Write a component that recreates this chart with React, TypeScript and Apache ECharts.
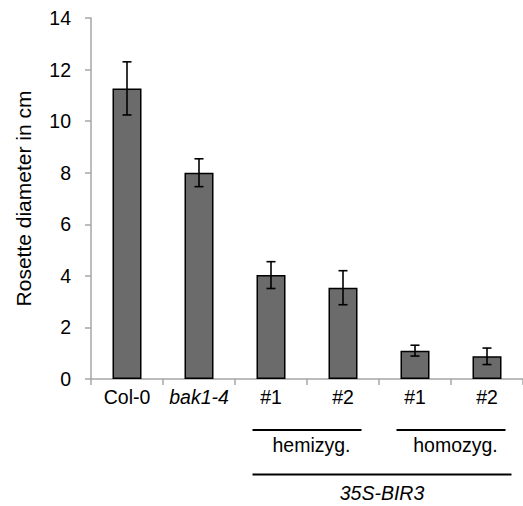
import React, { useEffect, useRef } from "react";
import * as echarts from "echarts";

const categories = ["Col-0", "bak1-4", "hemi #1", "hemi #2", "homo #1", "homo #2"];
const tickLabels = ["Col-0", "bak1-4", "#1", "#2", "#1", "#2"];
const italicLabels = ["bak1-4"];
const means = [11.27, 8.0, 4.03, 3.54, 1.1, 0.88];
const errors = [1.03, 0.54, 0.52, 0.66, 0.21, 0.32];
const yTicks = { min: 0, max: 14, interval: 2 };
const groups = [
  { label: "hemizyg.", from: 2, to: 3, italic: false, row: 0 },
  { label: "homozyg.", from: 4, to: 5, italic: false, row: 0 },
  { label: "35S-BIR3", from: 2, to: 5, italic: true, row: 1 },
];

const FONT = "'Liberation Sans', Arial, Helvetica, sans-serif";
const FS = 19.5;

export default function App() {
  const ref = useRef<HTMLDivElement>(null);
  useEffect(() => {
    if (!ref.current) return;
    const chart = echarts.init(ref.current, undefined, { renderer: "svg" });
    const errData = means.map((m, i) => [i, m - errors[i], m + errors[i]]);
    chart.setOption({
      animation: false,
      backgroundColor: "#ffffff",
      grid: { left: 91, right: -9, top: 18, bottom: 127, containLabel: false },
      xAxis: {
        type: "category",
        data: categories,
        axisLine: { show: true, lineStyle: { color: "#a6a6a6", width: 1.5 } },
        axisTick: { show: true, length: 6, lineStyle: { color: "#a6a6a6", width: 1.5 } },
        axisLabel: {
          margin: 8,
          color: "#000",
          fontSize: FS,
          fontFamily: FONT,
          interval: 0,
          formatter: (_v: string, idx: number) => {
            const t = tickLabels[idx];
            return italicLabels.includes(t) ? `{i|${t}}` : t;
          },
          rich: { i: { fontStyle: "italic", fontSize: FS, fontFamily: FONT, color: "#000" } },
        },
      },
      yAxis: {
        type: "value",
        min: yTicks.min,
        max: yTicks.max,
        interval: yTicks.interval,
        name: "Rosette diameter in cm",
        nameLocation: "middle",
        nameGap: 57,
        nameTextStyle: { fontSize: 21, fontFamily: FONT, color: "#000" },
        splitLine: { show: false },
        axisLine: { show: true, lineStyle: { color: "#a6a6a6", width: 1.5 } },
        axisTick: { show: true, length: 6, lineStyle: { color: "#a6a6a6", width: 1.5 } },
        axisLabel: { margin: 20, color: "#000", fontSize: FS, fontFamily: FONT },
      },
      series: [
        {
          type: "bar",
          data: means,
          barWidth: 29,
          itemStyle: { color: "#6b6b6b", borderColor: "#000", borderWidth: 1.5 },
        },
        {
          type: "custom",
          data: errData,
          z: 10,
          renderItem: (_p: any, api: any) => {
            const i = api.value(0);
            const lo = api.coord([i, api.value(1)]);
            const hi = api.coord([i, api.value(2)]);
            const x = lo[0];
            const hw = 4.5;
            const style = { stroke: "#000", lineWidth: 1.6 };
            return {
              type: "group",
              children: [
                { type: "line", shape: { x1: x, y1: hi[1], x2: x, y2: lo[1] }, style },
                { type: "line", shape: { x1: x - hw, y1: hi[1], x2: x + hw, y2: hi[1] }, style },
                { type: "line", shape: { x1: x - hw, y1: lo[1], x2: x + hw, y2: lo[1] }, style },
              ],
            };
          },
        },
      ],
    });

    const px = (i: number) => chart.convertToPixel({ xAxisIndex: 0 }, categories[i]) as number;
    const rows = [{ lineY: 430, textY: 445 }, { lineY: 474.5, textY: 493 }];
    const graphic: any[] = [];
    groups.forEach((g) => {
      const x1 = px(g.from) - 18.5;
      const x2 = px(g.to) + (g.row === 0 ? 18.5 : 24.5);
      const r = rows[g.row];
      graphic.push({
        type: "line",
        shape: { x1, y1: r.lineY, x2, y2: r.lineY },
        style: { stroke: "#000", lineWidth: 2 },
      });
      graphic.push({
        type: "text",
        x: (px(g.from) + px(g.to)) / 2 + (g.row === 0 ? 4.5 : 3),
        y: r.textY,
        style: {
          text: g.label,
          fontSize: FS,
          fontFamily: FONT,
          fontStyle: g.italic ? "italic" : "normal",
          fill: "#000",
          align: "center",
          verticalAlign: "middle",
        },
      });
    });
    chart.setOption({ graphic });

    return () => chart.dispose();
  }, []);
  return (
    <div
      ref={ref}
      style={{ position: "fixed", left: 0, top: 0, width: 523, height: 506, overflow: "hidden" }}
    />
  );
}
